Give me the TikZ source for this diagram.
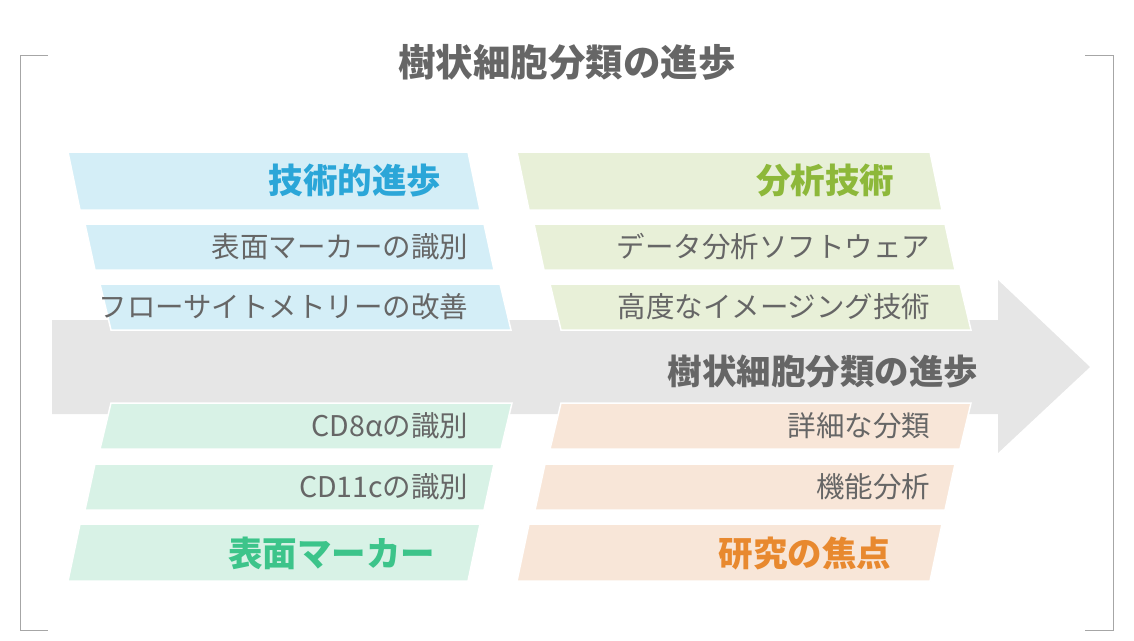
\documentclass[tikz,border=0pt]{standalone}
\usepackage{fontspec}
\setmainfont{Noto Sans CJK JP}
\usepackage{tikz}
\definecolor{blueFill}{HTML}{D4EEF7}
\definecolor{blueText}{HTML}{2BA6D8}
\definecolor{greenFill}{HTML}{E8F0D8}
\definecolor{greenText}{HTML}{8DB83A}
\definecolor{mintFill}{HTML}{D8F2E6}
\definecolor{mintText}{HTML}{3CC48A}
\definecolor{peachFill}{HTML}{F8E6D8}
\definecolor{peachText}{HTML}{E8892F}
\definecolor{arrowGray}{HTML}{E6E6E6}
\definecolor{bodyText}{HTML}{666666}
% parallelogram: x top-left, x top-right, y top, y bottom, slant, colour
\newcommand{\pgram}[6]{\filldraw[fill=#6, draw=white, line width=1.5pt] (#1,#3) -- (#2,#3) -- (#2+#5,#4) -- (#1+#5,#4) -- cycle;}
\begin{document}
\begin{tikzpicture}[x=1pt,y=-1pt]

			\tikzstyle{frame line}=[gray!70, thick]
			\tikzstyle{head label}=[anchor=east, font=\fontsize{34.5}{38}\selectfont\bfseries]
			\tikzstyle{item label}=[anchor=east, text=bodyText, font=\fontsize{28.5}{32}\selectfont]

		\useasboundingbox (0,0) rectangle (1134,640);

		%frame brackets
		\draw [frame line] (48,55) -- (20,55) -- (20,630) -- (48,630);
		\draw [frame line] (1085,55) -- (1113,55) -- (1113,630) -- (1085,630);
		\node (title) [text=bodyText, font=\fontsize{37.5}{40}\selectfont\bfseries] at (567,62) {樹状細胞分類の進歩};

		%big gray arrow
		\fill [arrowGray] (52,320) -- (998,320) -- (998,280) -- (1090,367) -- (998,453) -- (998,414) -- (52,414) -- cycle;
		\node (flow) [head label, text=bodyText] at (982,372) {樹状細胞分類の進歩};

		%upper left boxes
		\pgram{68}{468}{152}{210}{12}{blueFill}
		\pgram{85}{484}{224}{270}{10}{blueFill}
		\pgram{100}{500}{284}{330}{11}{blueFill}
		\node (tech) [head label, text=blueText] at (445,181) {技術的進歩};
		\node (marker id) [item label] at (472,247) {表面マーカーの識別};
		\node (flow cyto) [item label] at (472,307) {フローサイトメトリーの改善};

		%upper right boxes
		\pgram{517}{930}{152}{210}{12}{greenFill}
		\pgram{534}{945}{224}{270}{10}{greenFill}
		\pgram{550}{960}{284}{330}{11}{greenFill}
		\node (analysis) [head label, text=greenText] at (898,181) {分析技術};
		\node (software) [item label] at (934,247) {データ分析ソフトウェア};
		\node (imaging) [item label] at (934,307) {高度なイメージング技術};

		%lower left boxes
		\pgram{111}{512}{403}{449}{-11}{mintFill}
		\pgram{95}{494}{464}{510}{-10}{mintFill}
		\pgram{80}{480}{524}{581}{-12}{mintFill}
		\node (cd8) [item label] at (472,426) {CD8αの識別};
		\node (cd11c) [item label] at (472,487) {CD11cの識別};
		\node (surface) [head label, text=mintText] at (439,553) {表面マーカー};

		%lower right boxes
		\pgram{561}{971}{403}{449}{-11}{peachFill}
		\pgram{545}{955}{464}{510}{-10}{peachFill}
		\pgram{529}{942}{524}{581}{-12}{peachFill}
		\node (detail) [item label] at (934,426) {詳細な分類};
		\node (function) [item label] at (934,487) {機能分析};
		\node (focus) [head label, text=peachText] at (895,553) {研究の焦点};

		\end{tikzpicture}
\end{document}
